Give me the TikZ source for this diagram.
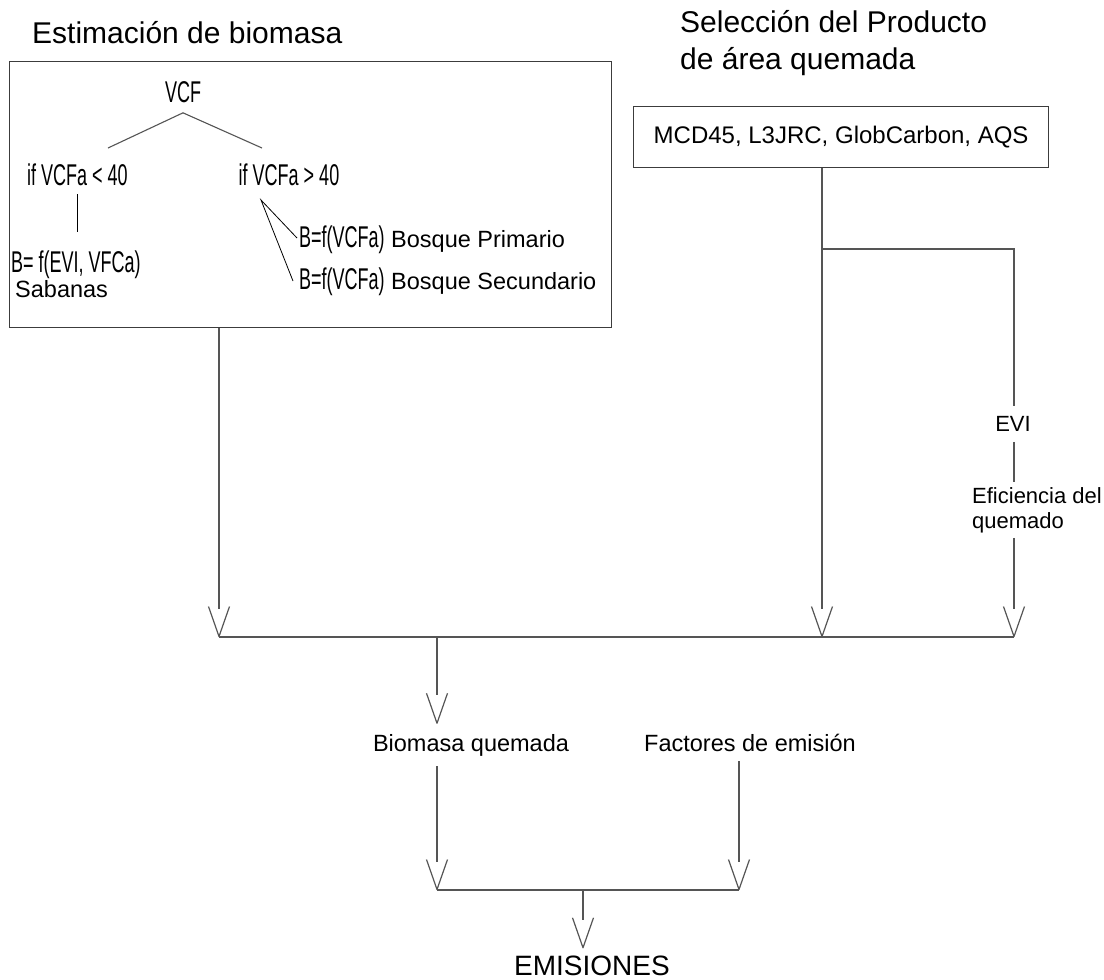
\documentclass[tikz,border=0pt]{standalone}
\usepackage{fontspec}
\setmainfont{Liberation Sans}
\newfontfamily\nar[FakeStretch=0.6]{Liberation Sans}
\usetikzlibrary{arrows.meta}
\definecolor{lncol}{RGB}{85,85,85}
\definecolor{boxcol}{RGB}{60,60,60}
\pgfdeclarearrow{
  name = OpenV,
  setup code = {
    \pgfarrowssettipend{0.5pt}
    \pgfarrowssetbackend{-30pt}
    \pgfarrowssetlineend{-28pt}
    \pgfarrowshullpoint{0pt}{0pt}
    \pgfarrowshullpoint{-30pt}{10.5pt}
    \pgfarrowshullpoint{-30pt}{-10.5pt}
  },
  drawing code = {
    \pgfsetdash{}{0pt}
    \pgfsetroundjoin
    \pgfpathmoveto{\pgfpoint{-30pt}{10.5pt}}
    \pgfpathlineto{\pgfpointorigin}
    \pgfpathlineto{\pgfpoint{-30pt}{-10.5pt}}
    \pgfusepathqstroke
  }
}
\newcommand\nartext[1]{{\nar\fontsize{30}{34}\selectfont #1}}
\tikzset{
  ln/.style={draw=lncol, line width=1.2pt},
  tln/.style={draw=black, line width=0.8pt},
  gln/.style={draw=lncol, line width=1.1pt},
  arr/.style={ln, -OpenV},
  box/.style={draw=boxcol, line width=1.3pt, inner sep=0pt},
  ttl/.style={inner sep=0pt, font=\fontsize{30}{36}\selectfont},
  txt/.style={inner xsep=0pt, inner ysep=10pt, font=\fontsize{23.5}{28}\selectfont},
  rtxt/.style={inner xsep=0pt, inner ysep=10pt, font=\fontsize{22}{25}\selectfont},
  narrow/.style={inner xsep=0pt, inner ysep=8pt, font=\nar\fontsize{30}{34}\selectfont},
}
\begin{document}
\begin{tikzpicture}[x=1pt,y=-1pt]
\path[use as bounding box, fill=white] (0,0) rectangle (1104,980);

% titles
\node[ttl, anchor=base west] (t1) at (32,43) {Estimación de biomasa};
\node[ttl, anchor=base west] (t2a) at (680,32) {Selección del Producto};
\node[ttl, anchor=base west] (t2b) at (680,69) {de área quemada};

% boxes
\node[box, minimum width=602, minimum height=266, anchor=north west] (b1) at (9,61) {};
\node[box, minimum width=415, minimum height=61, anchor=north west,
      font=\fontsize{24}{28}\selectfont] (b2) at (633,106) {MCD45, L3JRC, GlobCarbon, AQS};

% tree inside box 1
\node[narrow, inner ysep=10pt] (vcf) at (183,92) {VCF};
\node[narrow] (lt) at (77.5,175) {if VCFa < 40};
\node[narrow] (gt) at (289,175) {if VCFa > 40};
\node[narrow, inner ysep=0pt, anchor=base west] (bsab) at (11,272) {B= f(EVI, VFCa)};
\node[txt, inner ysep=0pt, anchor=base west] (sab) at (15,297) {Sabanas};
\node[txt, inner ysep=0pt, anchor=base west] (bp) at (299,247) {\nartext{B=f(VCFa)} Bosque Primario};
\node[txt, inner ysep=0pt, anchor=base west] (bs) at (299,289) {\nartext{B=f(VCFa)} Bosque Secundario};

\coordinate (l1) at (108,148);
\coordinate (r1) at (262,148);
\coordinate (a2) at (261,200);
\coordinate (p1) at (297,238);
\coordinate (p2) at (293,281);
\coordinate (lb) at (77.5,232);

\draw[gln] (l1) -- (vcf.south) -- (r1);
\draw[tln] (lt.south) -- (lb);
\draw[tln] (p1) -- (a2) -- (p2);

% lower text nodes
\node[rtxt] (evi) at (1013,424) {EVI};
\node[rtxt, align=left, anchor=north west, inner ysep=5pt] (efi) at (972,482) {Eficiencia del\\quemado};
\node[txt, anchor=base] (biom) at (471,751) {Biomasa quemada};
\node[txt, anchor=base] (fact) at (750,751) {Factores de emisión};
\node[inner xsep=0pt, inner ysep=7pt, anchor=base, font=\fontsize{28}{32}\selectfont] (emis) at (592,975) {EMISIONES};

% junction coordinates
\coordinate (m1) at (219,637);
\coordinate (m2) at (822,637);
\coordinate (m3) at (1014,637);
\coordinate (mb) at (437,637);
\coordinate (j1) at (822,249);
\coordinate (j2) at (1014,249);
\coordinate (k1) at (437,890);
\coordinate (k2) at (739,890);
\coordinate (ke) at (583,890);

% connectors
\draw[arr] (b1.south -| m1) -- (m1);
\draw[ln] (m1) -- (m3);
\draw[arr] (b2.south -| m2) -- (m2);
\draw[ln] (j1) -- (j2) -- (j2 |- evi.north);
\draw[ln] (evi.south -| j2) -- (j2 |- efi.north);
\draw[arr] (efi.south -| m3) -- (m3);
\draw[arr] (mb) -- (mb |- biom.north);
\draw[arr] (biom.south -| k1) -- (k1);
\draw[arr] (fact.south -| k2) -- (k2);
\draw[ln] (k1) -- (k2);
\draw[arr] (ke) -- (ke |- emis.north);
\end{tikzpicture}
\end{document}
